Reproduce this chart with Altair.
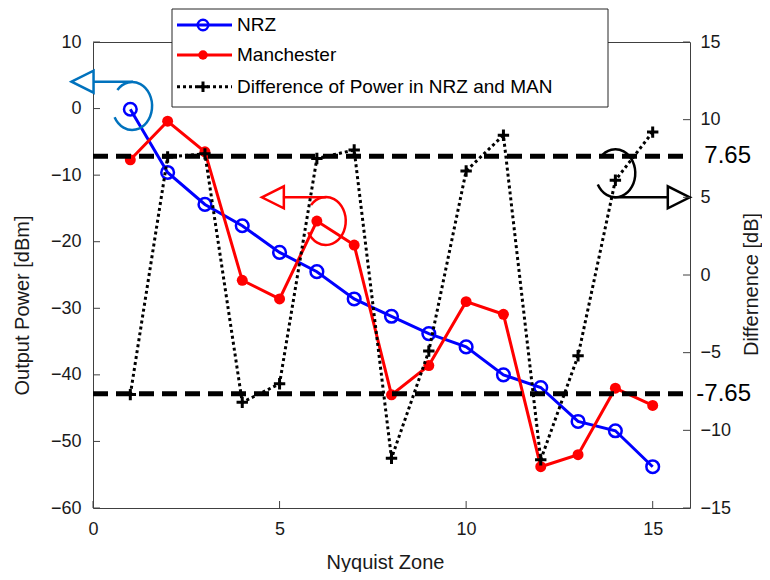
import altair as alt
import pandas as pd

# ---------------- data ----------------
zone = list(range(1, 16))
nrz = [-0.1, -9.6, -14.4, -17.6, -21.6, -24.5, -28.6, -31.2, -33.8, -35.8, -40.0, -41.9, -47.0, -48.4, -53.8]
man = [-7.7, -1.9, -6.5, -25.8, -28.6, -16.9, -20.5, -43.0, -38.6, -29.0, -30.9, -53.8, -52.0, -42.0, -44.6]
diff = [-7.7, 7.6, 7.8, -8.2, -7.0, 7.5, 8.05, -11.8, -4.9, 6.7, 9.0, -11.9, -5.2, 6.1, 9.2]

x_ticks = [0, 5, 10, 15]
left_ticks = [-60, -50, -40, -30, -20, -10, 0, 10]
right_ticks = [-15, -10, -5, 0, 5, 10, 15]
thresholds = [7.65, -7.65]
threshold_labels = ["7.65", "-7.65"]

legend_labels = ["NRZ", "Manchester", "Difference of Power in NRZ and MAN"]

# annotation arcs / arrows (data units of left axis)
ann_color = ["#0072BD", "#FF0000", "#000000"]
ann_cx = [1.05, 6.24, 14.0]
ann_cy = [0.39, -16.89, -9.72]
arrow_y = [4.04, -13.33, -13.33]
arrow_x1 = [0.0, 5.09, 13.95]
arrow_x2 = [1.07, 6.25, 15.4]
head_x = [-0.28, 4.82, 15.70]
head_dir = ["left", "left", "right"]

# ---------------- style ----------------
W, H = 597, 466
FONT = "Liberation Sans"
AXC = "#404040"
BLUE = "#0000FF"
RED = "#FF0000"
ARC_PATH = "M-0.617,-0.669 A0.83,1 0 1 1 -0.733,0.469"
TRI = {"left": "M-1,0 L1,-1 L1,1 Z", "right": "M1,0 L-1,-1 L-1,1 Z"}
PLUS = "M-1,0 L1,0 M0,-1 L0,1"

df = pd.DataFrame({"zone": zone, "nrz": nrz, "man": man, "diff": diff})
ann = pd.DataFrame({
    "col": ann_color, "cx": ann_cx, "cy": ann_cy, "ay": arrow_y,
    "x1": arrow_x1, "x2": arrow_x2, "hx": head_x,
    "hs": [TRI[d] for d in head_dir],
})
lt = pd.DataFrame({"v": left_ticks})
rt = pd.DataFrame({"v": right_ticks})
bt = pd.DataFrame({"v": x_ticks})
thr = pd.DataFrame({"t": thresholds, "label": threshold_labels})

xs = alt.Scale(domain=[0, 16], nice=False, zero=False)
ls = alt.Scale(domain=[-60, 10], nice=False, zero=False)
rs = alt.Scale(domain=[-15, 15], nice=False, zero=False)

x_axis = alt.Axis(values=x_ticks, title="Nyquist Zone", labelPadding=12, labelFlush=False,
                  titleX=292, titleY=54, titleBaseline="middle", format="d")
left_axis = alt.Axis(values=left_ticks, title="Output Power [dBm]", labelPadding=12,
                     titleX=-71, titleY=263, titleAngle=270, titleBaseline="middle", format="d")
right_axis = alt.Axis(values=right_ticks, title="Differnence [dB]", orient="right", labelPadding=10,
                      titleX=61, titleY=242, titleAngle=270, titleBaseline="middle", format="d")


def X(field):
    return alt.X(field, type="quantitative", scale=xs, axis=x_axis)


def YL(field):
    return alt.Y(field, type="quantitative", scale=ls, axis=left_axis)


def YR(field):
    return alt.Y(field, type="quantitative", scale=rs, axis=right_axis)


# ---------------- left group ----------------
ltick = alt.Chart(lt).mark_rule(color=AXC, strokeWidth=1).encode(
    y=YL("v"), x=alt.value(0), x2=alt.value(7))
btick = alt.Chart(bt).mark_rule(color=AXC, strokeWidth=1).encode(
    x=X("v"), y=alt.value(H), y2=alt.value(H - 7))

nrz_line = alt.Chart(df).mark_line(color=BLUE, strokeWidth=3).encode(x=X("zone"), y=YL("nrz"))
nrz_pts = alt.Chart(df).mark_point(shape="circle", filled=False, color=BLUE, size=160,
                                   strokeWidth=2.5, opacity=1).encode(x=X("zone"), y=YL("nrz"))
man_line = alt.Chart(df).mark_line(color=RED, strokeWidth=3).encode(x=X("zone"), y=YL("man"))
man_pts = alt.Chart(df).mark_point(shape="circle", filled=True, color=RED, size=120,
                                   opacity=1).encode(x=X("zone"), y=YL("man"))

arcs = alt.Chart(ann).mark_point(shape=ARC_PATH, filled=False, size=2304, strokeWidth=2.5,
                                 opacity=1).encode(
    x=X("cx"), y=YL("cy"), color=alt.Color("col:N", scale=None))
arrows = alt.Chart(ann).mark_rule(strokeWidth=2.5).encode(
    x=X("x1"), x2="x2:Q", y=YL("ay"), color=alt.Color("col:N", scale=None))
heads = alt.Chart(ann).mark_point(filled=False, size=484, strokeWidth=2.5, opacity=1).encode(
    x=X("hx"), y=YL("ay"), color=alt.Color("col:N", scale=None),
    shape=alt.Shape("hs:N", scale=None))

left = alt.layer(nrz_line, ltick, btick, nrz_pts, man_line, man_pts, arcs, arrows, heads)

# ---------------- right group ----------------
thr_rule = alt.Chart(thr).mark_rule(color="black", strokeWidth=5, strokeDash=[15, 8]).encode(
    y=YR("t"), x=alt.value(0), x2=alt.value(W))
thr_text = alt.Chart(thr).mark_text(align="right", baseline="middle", fontSize=24, font=FONT,
                                    color="black").encode(
    y=YR("t"), x=alt.value(658), text="label:N")
rtick = alt.Chart(rt).mark_rule(color=AXC, strokeWidth=1).encode(
    y=YR("v"), x=alt.value(W - 7), x2=alt.value(W))
diff_line = alt.Chart(df).mark_line(color="black", strokeWidth=3, strokeDash=[3, 3]).encode(
    x=X("zone"), y=YR("diff"))
diff_pts = alt.Chart(df).mark_point(shape=PLUS, filled=False, color="black", size=130,
                                    strokeWidth=3, opacity=1).encode(x=X("zone"), y=YR("diff"))

right = alt.layer(thr_rule, rtick, diff_line, diff_pts, thr_text)

# ---------------- legend (drawn) ----------------
one = pd.DataFrame({"a": [0]})
leg_rows = [-17, 13, 44.7]
leg_layers = [
    alt.Chart(one).mark_rect(fill="white", stroke="#262626", strokeWidth=1).encode(
        x=alt.value(79), x2=alt.value(515), y=alt.value(-33), y2=alt.value(65))
]
leg_styles = [
    dict(color=BLUE, dash=None, shape="circle", filled=False, size=110, sw=2.5),
    dict(color=RED, dash=None, shape="circle", filled=True, size=90, sw=1),
    dict(color="black", dash=[3, 3], shape=PLUS, filled=False, size=110, sw=3),
]
for lab, ry, st in zip(legend_labels, leg_rows, leg_styles):
    rule_kw = dict(color=st["color"], strokeWidth=3)
    if st["dash"]:
        rule_kw["strokeDash"] = st["dash"]
    leg_layers.append(alt.Chart(one).mark_rule(**rule_kw).encode(
        x=alt.value(84), x2=alt.value(139), y=alt.value(ry)))
    leg_layers.append(alt.Chart(one).mark_point(shape=st["shape"], filled=st["filled"],
                                                color=st["color"], size=st["size"],
                                                strokeWidth=st["sw"], opacity=1).encode(
        x=alt.value(110), y=alt.value(ry)))
    leg_layers.append(alt.Chart(one).mark_text(align="left", baseline="middle", fontSize=19,
                                               font=FONT, color="black").encode(
        x=alt.value(144), y=alt.value(ry), text=alt.value(lab)))

legend = alt.layer(*leg_layers)

chart = alt.layer(left, right, legend).resolve_scale(y="independent").properties(
    width=W, height=H,
    autosize=alt.AutoSizeParams(type="none"),
    padding={"left": 85, "top": 34, "right": 72, "bottom": 64},
).configure_view(stroke=AXC, strokeWidth=1).configure_axis(
    grid=False, domain=False, ticks=False, tickSize=0,
    labelFont=FONT, labelFontSize=18, labelColor="#1a1a1a",
    titleFont=FONT, titleFontSize=20, titleFontWeight="normal", titleColor="#1a1a1a",
)

chart.save("out.html", embed_options={"renderer": "svg", "actions": False})
